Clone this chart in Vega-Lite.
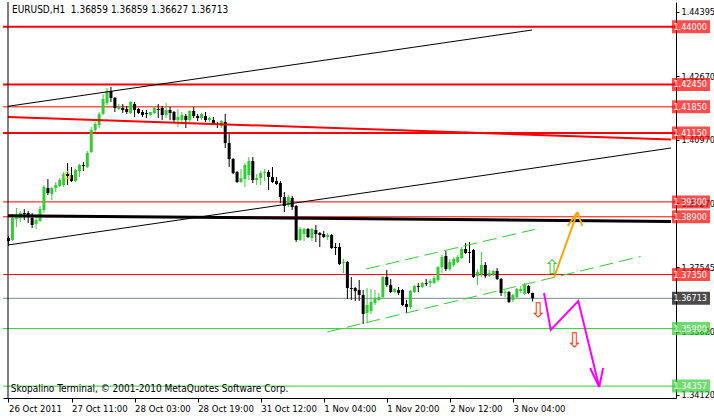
{
  "$schema": "https://vega.github.io/schema/vega-lite/v6.json",
  "width": 673,
  "height": 396,
  "autosize": {"type": "none"},
  "padding": {"left": 3, "top": 2, "right": 38, "bottom": 18},
  "background": "white",
  "config": {
    "view": {"stroke": null},
    "font": "Tahoma, DejaVu Sans Condensed, DejaVu Sans",
    "axis": {"labelFont": "Tahoma, DejaVu Sans Condensed, DejaVu Sans", "labelFontSize": 9, "labelColor": "black", "domainColor": "black", "tickColor": "black", "grid": false, "title": null}
  },
  "resolve": {"scale": {"color": "independent"}},
  "datasets": {
    "candles": [
      {"i":0,"o":1.38331,"h":1.38384,"l":1.38116,"c":1.38250},
      {"i":1,"o":1.38277,"h":1.38975,"l":1.38250,"c":1.38867},
      {"i":2,"o":1.38840,"h":1.39136,"l":1.38626,"c":1.38894},
      {"i":3,"o":1.38867,"h":1.39055,"l":1.38760,"c":1.39001},
      {"i":4,"o":1.39001,"h":1.39109,"l":1.38814,"c":1.38975},
      {"i":5,"o":1.39001,"h":1.39055,"l":1.38733,"c":1.38894},
      {"i":6,"o":1.38867,"h":1.39001,"l":1.38599,"c":1.38679},
      {"i":7,"o":1.38706,"h":1.38867,"l":1.38572,"c":1.38814},
      {"i":8,"o":1.38787,"h":1.39189,"l":1.38760,"c":1.39109},
      {"i":9,"o":1.39082,"h":1.39753,"l":1.39001,"c":1.39699},
      {"i":10,"o":1.39672,"h":1.39914,"l":1.39484,"c":1.39538},
      {"i":11,"o":1.39511,"h":1.39699,"l":1.39350,"c":1.39672},
      {"i":12,"o":1.39672,"h":1.39833,"l":1.39565,"c":1.39753},
      {"i":13,"o":1.39726,"h":1.39940,"l":1.39699,"c":1.39887},
      {"i":14,"o":1.39753,"h":1.40101,"l":1.39699,"c":1.40048},
      {"i":15,"o":1.40048,"h":1.40343,"l":1.39753,"c":1.39994},
      {"i":16,"o":1.40021,"h":1.40236,"l":1.39833,"c":1.39860},
      {"i":17,"o":1.39860,"h":1.40182,"l":1.39833,"c":1.40155},
      {"i":18,"o":1.40128,"h":1.40316,"l":1.39967,"c":1.40289},
      {"i":19,"o":1.40289,"h":1.40370,"l":1.40128,"c":1.40262},
      {"i":20,"o":1.40236,"h":1.40665,"l":1.40209,"c":1.40611},
      {"i":21,"o":1.40638,"h":1.41309,"l":1.40611,"c":1.41228},
      {"i":22,"o":1.41228,"h":1.41443,"l":1.41175,"c":1.41389},
      {"i":23,"o":1.41363,"h":1.41712,"l":1.41282,"c":1.41658},
      {"i":24,"o":1.41658,"h":1.42195,"l":1.41631,"c":1.42061},
      {"i":25,"o":1.41953,"h":1.42356,"l":1.41900,"c":1.42275},
      {"i":26,"o":1.42275,"h":1.42383,"l":1.41980,"c":1.42088},
      {"i":27,"o":1.42088,"h":1.42114,"l":1.41712,"c":1.41819},
      {"i":28,"o":1.41792,"h":1.41926,"l":1.41765,"c":1.41846},
      {"i":29,"o":1.41819,"h":1.41926,"l":1.41685,"c":1.41765},
      {"i":30,"o":1.41792,"h":1.41873,"l":1.41658,"c":1.41712},
      {"i":31,"o":1.41685,"h":1.42007,"l":1.41658,"c":1.41980},
      {"i":32,"o":1.41926,"h":1.41980,"l":1.41577,"c":1.41765},
      {"i":33,"o":1.41792,"h":1.41819,"l":1.41658,"c":1.41685},
      {"i":34,"o":1.41712,"h":1.41765,"l":1.41577,"c":1.41631},
      {"i":35,"o":1.41685,"h":1.41765,"l":1.41551,"c":1.41658},
      {"i":36,"o":1.41631,"h":1.41712,"l":1.41604,"c":1.41712},
      {"i":37,"o":1.41685,"h":1.41873,"l":1.41658,"c":1.41819},
      {"i":38,"o":1.41792,"h":1.41926,"l":1.41551,"c":1.41765},
      {"i":39,"o":1.41819,"h":1.41873,"l":1.41497,"c":1.41631},
      {"i":40,"o":1.41631,"h":1.41953,"l":1.41551,"c":1.41765},
      {"i":41,"o":1.41765,"h":1.41846,"l":1.41497,"c":1.41685},
      {"i":42,"o":1.41712,"h":1.41738,"l":1.41443,"c":1.41497},
      {"i":43,"o":1.41497,"h":1.41792,"l":1.41309,"c":1.41577},
      {"i":44,"o":1.41497,"h":1.41712,"l":1.41443,"c":1.41631},
      {"i":45,"o":1.41604,"h":1.41658,"l":1.41282,"c":1.41497},
      {"i":46,"o":1.41497,"h":1.41765,"l":1.41443,"c":1.41738},
      {"i":47,"o":1.41738,"h":1.41846,"l":1.41551,"c":1.41604},
      {"i":48,"o":1.41604,"h":1.41658,"l":1.41470,"c":1.41551},
      {"i":49,"o":1.41551,"h":1.41685,"l":1.41497,"c":1.41658},
      {"i":50,"o":1.41604,"h":1.41712,"l":1.41443,"c":1.41497},
      {"i":51,"o":1.41497,"h":1.41577,"l":1.41443,"c":1.41551},
      {"i":52,"o":1.41497,"h":1.41577,"l":1.41389,"c":1.41389},
      {"i":53,"o":1.41389,"h":1.41443,"l":1.41282,"c":1.41363},
      {"i":54,"o":1.41336,"h":1.41497,"l":1.41282,"c":1.41470},
      {"i":55,"o":1.41443,"h":1.41658,"l":1.40745,"c":1.40880},
      {"i":56,"o":1.40880,"h":1.41121,"l":1.40236,"c":1.40450},
      {"i":57,"o":1.40450,"h":1.40477,"l":1.40048,"c":1.40074},
      {"i":58,"o":1.40101,"h":1.40128,"l":1.39806,"c":1.39833},
      {"i":59,"o":1.39833,"h":1.40182,"l":1.39806,"c":1.39940},
      {"i":60,"o":1.39914,"h":1.40343,"l":1.39699,"c":1.40289},
      {"i":61,"o":1.40021,"h":1.40504,"l":1.39887,"c":1.40397},
      {"i":62,"o":1.40397,"h":1.40504,"l":1.39806,"c":1.39887},
      {"i":63,"o":1.39887,"h":1.40048,"l":1.39753,"c":1.39940},
      {"i":64,"o":1.39940,"h":1.40128,"l":1.39753,"c":1.40074},
      {"i":65,"o":1.40074,"h":1.40182,"l":1.39860,"c":1.40101},
      {"i":66,"o":1.40101,"h":1.40155,"l":1.39618,"c":1.39967},
      {"i":67,"o":1.39967,"h":1.40236,"l":1.39806,"c":1.39833},
      {"i":68,"o":1.39860,"h":1.39967,"l":1.39753,"c":1.39779},
      {"i":69,"o":1.39806,"h":1.39860,"l":1.39270,"c":1.39431},
      {"i":70,"o":1.39431,"h":1.39565,"l":1.39028,"c":1.39189},
      {"i":71,"o":1.39216,"h":1.39484,"l":1.39162,"c":1.39431},
      {"i":72,"o":1.39404,"h":1.39457,"l":1.39082,"c":1.39162},
      {"i":73,"o":1.39189,"h":1.39216,"l":1.38223,"c":1.38277},
      {"i":74,"o":1.38277,"h":1.38626,"l":1.38250,"c":1.38572},
      {"i":75,"o":1.38438,"h":1.38599,"l":1.38250,"c":1.38572},
      {"i":76,"o":1.38572,"h":1.38599,"l":1.38331,"c":1.38357},
      {"i":77,"o":1.38331,"h":1.38599,"l":1.38250,"c":1.38572},
      {"i":78,"o":1.38545,"h":1.38679,"l":1.38223,"c":1.38438},
      {"i":79,"o":1.38465,"h":1.38492,"l":1.38089,"c":1.38411},
      {"i":80,"o":1.38438,"h":1.38518,"l":1.38331,"c":1.38357},
      {"i":81,"o":1.38357,"h":1.38465,"l":1.38277,"c":1.38411},
      {"i":82,"o":1.38411,"h":1.38438,"l":1.38035,"c":1.38062},
      {"i":83,"o":1.38089,"h":1.38196,"l":1.37874,"c":1.38062},
      {"i":84,"o":1.38089,"h":1.38196,"l":1.37606,"c":1.37633},
      {"i":85,"o":1.37660,"h":1.37767,"l":1.37391,"c":1.37686},
      {"i":86,"o":1.37686,"h":1.37713,"l":1.36694,"c":1.36989},
      {"i":87,"o":1.36989,"h":1.37284,"l":1.36667,"c":1.36962},
      {"i":88,"o":1.36989,"h":1.37016,"l":1.36640,"c":1.36908},
      {"i":89,"o":1.36935,"h":1.37204,"l":1.36640,"c":1.36801},
      {"i":90,"o":1.36801,"h":1.36935,"l":1.36023,"c":1.36291},
      {"i":91,"o":1.36318,"h":1.36989,"l":1.36077,"c":1.36533},
      {"i":92,"o":1.36372,"h":1.36962,"l":1.36291,"c":1.36613},
      {"i":93,"o":1.36586,"h":1.36935,"l":1.36533,"c":1.36721},
      {"i":94,"o":1.36667,"h":1.36855,"l":1.36640,"c":1.36747},
      {"i":95,"o":1.36747,"h":1.37311,"l":1.36721,"c":1.37284},
      {"i":96,"o":1.37284,"h":1.37472,"l":1.37016,"c":1.37069},
      {"i":97,"o":1.37069,"h":1.37230,"l":1.36855,"c":1.36882},
      {"i":98,"o":1.36882,"h":1.36989,"l":1.36855,"c":1.36962},
      {"i":99,"o":1.36935,"h":1.37016,"l":1.36801,"c":1.36855},
      {"i":100,"o":1.36935,"h":1.36962,"l":1.36506,"c":1.36533},
      {"i":101,"o":1.36560,"h":1.36667,"l":1.36318,"c":1.36479},
      {"i":102,"o":1.36479,"h":1.36935,"l":1.36425,"c":1.36908},
      {"i":103,"o":1.36882,"h":1.37069,"l":1.36855,"c":1.37043},
      {"i":104,"o":1.37043,"h":1.37123,"l":1.36882,"c":1.37016},
      {"i":105,"o":1.37016,"h":1.37150,"l":1.36989,"c":1.37123},
      {"i":106,"o":1.37123,"h":1.37230,"l":1.37043,"c":1.37096},
      {"i":107,"o":1.37123,"h":1.37230,"l":1.37016,"c":1.37177},
      {"i":108,"o":1.37123,"h":1.37311,"l":1.37096,"c":1.37257},
      {"i":109,"o":1.37204,"h":1.37579,"l":1.37150,"c":1.37552},
      {"i":110,"o":1.37552,"h":1.37874,"l":1.37391,"c":1.37821},
      {"i":111,"o":1.37847,"h":1.37982,"l":1.37445,"c":1.37499},
      {"i":112,"o":1.37499,"h":1.37767,"l":1.37445,"c":1.37686},
      {"i":113,"o":1.37606,"h":1.37821,"l":1.37552,"c":1.37767},
      {"i":114,"o":1.37686,"h":1.37874,"l":1.37660,"c":1.37821},
      {"i":115,"o":1.37794,"h":1.38089,"l":1.37767,"c":1.38035},
      {"i":116,"o":1.38035,"h":1.38196,"l":1.37901,"c":1.37928},
      {"i":117,"o":1.37955,"h":1.38223,"l":1.37660,"c":1.37928},
      {"i":118,"o":1.38009,"h":1.38035,"l":1.37257,"c":1.37284},
      {"i":119,"o":1.37311,"h":1.37499,"l":1.37069,"c":1.37418},
      {"i":120,"o":1.37364,"h":1.37955,"l":1.37284,"c":1.37606},
      {"i":121,"o":1.37606,"h":1.37686,"l":1.37257,"c":1.37311},
      {"i":122,"o":1.37311,"h":1.37472,"l":1.37284,"c":1.37391},
      {"i":123,"o":1.37364,"h":1.37472,"l":1.37311,"c":1.37445},
      {"i":124,"o":1.37445,"h":1.37525,"l":1.37204,"c":1.37230},
      {"i":125,"o":1.37230,"h":1.37257,"l":1.36774,"c":1.36855},
      {"i":126,"o":1.36855,"h":1.36935,"l":1.36747,"c":1.36882},
      {"i":127,"o":1.36882,"h":1.36908,"l":1.36586,"c":1.36613},
      {"i":128,"o":1.36667,"h":1.36828,"l":1.36613,"c":1.36801},
      {"i":129,"o":1.36747,"h":1.36989,"l":1.36721,"c":1.36962},
      {"i":130,"o":1.36908,"h":1.37043,"l":1.36855,"c":1.36962},
      {"i":131,"o":1.36828,"h":1.37123,"l":1.36801,"c":1.37069},
      {"i":132,"o":1.37043,"h":1.37069,"l":1.36828,"c":1.36855},
      {"i":133,"o":1.36859,"h":1.36859,"l":1.36627,"c":1.36713}
    ],
    "levels": [
      {"p":1.44000,"k":"r2"},
      {"p":1.42450,"k":"r2"},
      {"p":1.41850,"k":"r1"},
      {"p":1.41150,"k":"r2"},
      {"p":1.39300,"k":"r1"},
      {"p":1.38900,"k":"r1"},
      {"p":1.37350,"k":"r1"},
      {"p":1.36713,"k":"cur"},
      {"p":1.35900,"k":"g"},
      {"p":1.34357,"k":"g"}
    ],
    "lines": [
      {"id":"trend_red","k":"red2","n":0,"i":-0.125,"p":1.41577},
      {"id":"trend_red","k":"red2","n":1,"i":168.125,"p":1.40974},
      {"id":"black_h","k":"blk3","n":0,"i":-0.125,"p":1.38929},
      {"id":"black_h","k":"blk3","n":1,"i":168.125,"p":1.38774},
      {"id":"black_up","k":"blk1","n":0,"i":-0.125,"p":1.41865},
      {"id":"black_up","k":"blk1","n":1,"i":132.9,"p":1.43912},
      {"id":"black_lo","k":"blk1","n":0,"i":-0.125,"p":1.38143},
      {"id":"black_lo","k":"blk1","n":1,"i":168.125,"p":1.40746},
      {"id":"chan_up","k":"gdash","n":0,"i":90.75,"p":1.37499},
      {"id":"chan_up","k":"gdash","n":1,"i":133.6,"p":1.38564},
      {"id":"chan_lo","k":"gdash","n":0,"i":80.9,"p":1.35809},
      {"id":"chan_lo","k":"gdash","n":1,"i":160.4,"p":1.37835},
      {"id":"or_main","k":"orange","n":0,"i":138.4,"p":1.37257},
      {"id":"or_main","k":"orange","n":1,"i":144.4,"p":1.39028},
      {"id":"or_h1","k":"orange","n":0,"i":141.9,"p":1.38653},
      {"id":"or_h1","k":"orange","n":1,"i":144.4,"p":1.39028},
      {"id":"or_h2","k":"orange","n":0,"i":145.6,"p":1.38653},
      {"id":"or_h2","k":"orange","n":1,"i":144.4,"p":1.39028},
      {"id":"mg_main","k":"magenta","n":0,"i":135.9,"p":1.36855},
      {"id":"mg_main","k":"magenta","n":1,"i":137.6,"p":1.35863},
      {"id":"mg_main","k":"magenta","n":2,"i":144.6,"p":1.36640},
      {"id":"mg_main","k":"magenta","n":3,"i":149.9,"p":1.34333},
      {"id":"mg_h1","k":"magenta","n":0,"i":147.6,"p":1.34843},
      {"id":"mg_h1","k":"magenta","n":1,"i":149.9,"p":1.34333},
      {"id":"mg_h2","k":"magenta","n":0,"i":150.9,"p":1.34843},
      {"id":"mg_h2","k":"magenta","n":1,"i":149.9,"p":1.34333}
    ],
    "arrows": [
      {"i":137.9,"p":1.37525,"s":"⇧","k":"up"},
      {"i":134.4,"p":1.36372,"s":"⇩","k":"down"},
      {"i":143.6,"p":1.35568,"s":"⇩","k":"down"}
    ]
  },
  "layer": [
    {
      "data": {"name": "levels"},
      "transform": [{"filter": "datum.k == 'r2'"}],
      "mark": {"type": "rule", "color": "#ff0000", "strokeWidth": 2},
      "encoding": {
        "y": {"field": "p", "type": "quantitative",
          "scale": {"domain": [1.34038, 1.44663], "nice": false, "zero": false},
          "axis": {"orient": "right", "values": [1.44395,1.43545,1.4267,1.4182,1.4097,1.4012,1.3927,1.38395,1.37545,1.36695,1.3582,1.3497,1.3412], "format": ".5f", "tickSize": 3, "labelPadding": 2, "labelBaseline": "middle"}}
      }
    },
    {
      "data": {"name": "levels"},
      "transform": [{"filter": "datum.k == 'r1'"}],
      "mark": {"type": "rule", "color": "#ff0000", "strokeWidth": 1},
      "encoding": {"y": {"field": "p", "type": "quantitative"}}
    },
    {
      "data": {"name": "levels"},
      "transform": [{"filter": "datum.k == 'cur'"}],
      "mark": {"type": "rule", "color": "#778899", "strokeWidth": 1},
      "encoding": {"y": {"field": "p", "type": "quantitative"}}
    },
    {
      "data": {"name": "levels"},
      "transform": [{"filter": "datum.k == 'g'"}],
      "mark": {"type": "rule", "color": "#32cd32", "strokeWidth": 1},
      "encoding": {"y": {"field": "p", "type": "quantitative"}}
    },
    {
      "data": {"name": "candles"},
      "mark": {"type": "rule", "strokeWidth": 1},
      "encoding": {
        "x": {"field": "i", "type": "quantitative",
          "scale": {"domain": [-0.125, 168.125], "nice": false, "zero": false},
          "axis": {"orient": "bottom", "values": [0,16,32,48,64,80,96,112,128],
            "labelExpr": "['26 Oct 2011','27 Oct 11:00','28 Oct 03:00','28 Oct 19:00','31 Oct 12:00','1 Nov 04:00','1 Nov 20:00','2 Nov 12:00','3 Nov 04:00'][round(datum.value/16)]",
            "labelAlign": "left", "labelFontSize": 9.5, "tickSize": 4, "labelPadding": 1, "labelFlush": false, "labelOverlap": false}},
        "y": {"field": "h", "type": "quantitative"},
        "y2": {"field": "l"},
        "color": {"condition": {"test": "datum.c >= datum.o", "value": "#32cd32"}, "value": "black"}
      }
    },
    {
      "data": {"name": "candles"},
      "mark": {"type": "bar", "size": 3},
      "encoding": {
        "x": {"field": "i", "type": "quantitative"},
        "y": {"field": "o", "type": "quantitative"},
        "y2": {"field": "c"},
        "color": {"condition": {"test": "datum.c >= datum.o", "value": "#32cd32"}, "value": "black"}
      }
    },
    {
      "data": {"name": "lines"},
      "transform": [{"filter": "datum.k == 'red2'"}],
      "mark": {"type": "line", "color": "#ff0000", "strokeWidth": 2},
      "encoding": {"x": {"field": "i", "type": "quantitative"}, "y": {"field": "p", "type": "quantitative"}, "detail": {"field": "id"}, "order": {"field": "n"}}
    },
    {
      "data": {"name": "lines"},
      "transform": [{"filter": "datum.k == 'blk3'"}],
      "mark": {"type": "line", "color": "#000000", "strokeWidth": 3},
      "encoding": {"x": {"field": "i", "type": "quantitative"}, "y": {"field": "p", "type": "quantitative"}, "detail": {"field": "id"}, "order": {"field": "n"}}
    },
    {
      "data": {"name": "lines"},
      "transform": [{"filter": "datum.k == 'blk1'"}],
      "mark": {"type": "line", "color": "#000000", "strokeWidth": 1},
      "encoding": {"x": {"field": "i", "type": "quantitative"}, "y": {"field": "p", "type": "quantitative"}, "detail": {"field": "id"}, "order": {"field": "n"}}
    },
    {
      "data": {"name": "lines"},
      "transform": [{"filter": "datum.k == 'gdash'"}],
      "mark": {"type": "line", "color": "#32cd32", "strokeWidth": 1, "strokeDash": [14, 6]},
      "encoding": {"x": {"field": "i", "type": "quantitative"}, "y": {"field": "p", "type": "quantitative"}, "detail": {"field": "id"}, "order": {"field": "n"}}
    },
    {
      "data": {"name": "lines"},
      "transform": [{"filter": "datum.k == 'orange'"}],
      "mark": {"type": "line", "color": "#ffa500", "strokeWidth": 2},
      "encoding": {"x": {"field": "i", "type": "quantitative"}, "y": {"field": "p", "type": "quantitative"}, "detail": {"field": "id"}, "order": {"field": "n"}}
    },
    {
      "data": {"name": "lines"},
      "transform": [{"filter": "datum.k == 'magenta'"}],
      "mark": {"type": "line", "color": "#ff00ff", "strokeWidth": 2},
      "encoding": {"x": {"field": "i", "type": "quantitative"}, "y": {"field": "p", "type": "quantitative"}, "detail": {"field": "id"}, "order": {"field": "n"}}
    },
    {
      "data": {"name": "arrows"},
      "mark": {"type": "text", "fontSize": 20, "font": "DejaVu Sans", "baseline": "middle", "align": "center"},
      "encoding": {
        "x": {"field": "i", "type": "quantitative"},
        "y": {"field": "p", "type": "quantitative"},
        "text": {"field": "s"},
        "color": {"field": "k", "type": "nominal", "legend": null,
          "scale": {"domain": ["up","down"], "range": ["#32cd32","#ff3300"]}}
      }
    },
    {
      "data": {"values": [{"i": 14.9, "p": 1.40021, "s": "⌂"}]},
      "mark": {"type": "text", "fontSize": 14, "font": "DejaVu Sans", "baseline": "middle", "align": "center", "color": "#b8d82a"},
      "encoding": {
        "x": {"field": "i", "type": "quantitative"},
        "y": {"field": "p", "type": "quantitative"},
        "text": {"field": "s"}
      }
    },
    {
      "data": {"name": "levels"},
      "mark": {"type": "tick", "orient": "horizontal", "size": 38, "thickness": 13},
      "encoding": {
        "x": {"datum": 173.2, "type": "quantitative"},
        "y": {"field": "p", "type": "quantitative"},
        "color": {"field": "k", "type": "nominal", "legend": null,
          "scale": {"domain": ["r2","r1","cur","g"], "range": ["#ff0000","#ff0000","#000000","#32cd32"]}}
      }
    },
    {
      "data": {"name": "levels"},
      "mark": {"type": "text", "align": "left", "baseline": "middle", "fontSize": 9, "color": "white"},
      "encoding": {
        "x": {"datum": 168.75, "type": "quantitative"},
        "y": {"field": "p", "type": "quantitative"},
        "text": {"field": "p", "type": "quantitative", "format": ".5f"}
      }
    },
    {
      "data": {"values": [{"t": "EURUSD,H1\u00a0 1.36859 1.36859 1.36627 1.36713", "i": 0.9, "p": 1.44449}, {"t": "Skopalino Terminal, © 2001-2010 MetaQuotes Software Corp.", "i": 0.6, "p": 1.34290}]},
      "mark": {"type": "text", "align": "left", "baseline": "middle", "fontSize": 10, "color": "black"},
      "encoding": {
        "x": {"field": "i", "type": "quantitative"},
        "y": {"field": "p", "type": "quantitative"},
        "text": {"field": "t"}
      }
    },
    {
      "data": {"values": [{"i": -0.125}]},
      "mark": {"type": "rule", "color": "black", "strokeWidth": 1},
      "encoding": {
        "x": {"field": "i", "type": "quantitative"}
      }
    }
  ]
}
